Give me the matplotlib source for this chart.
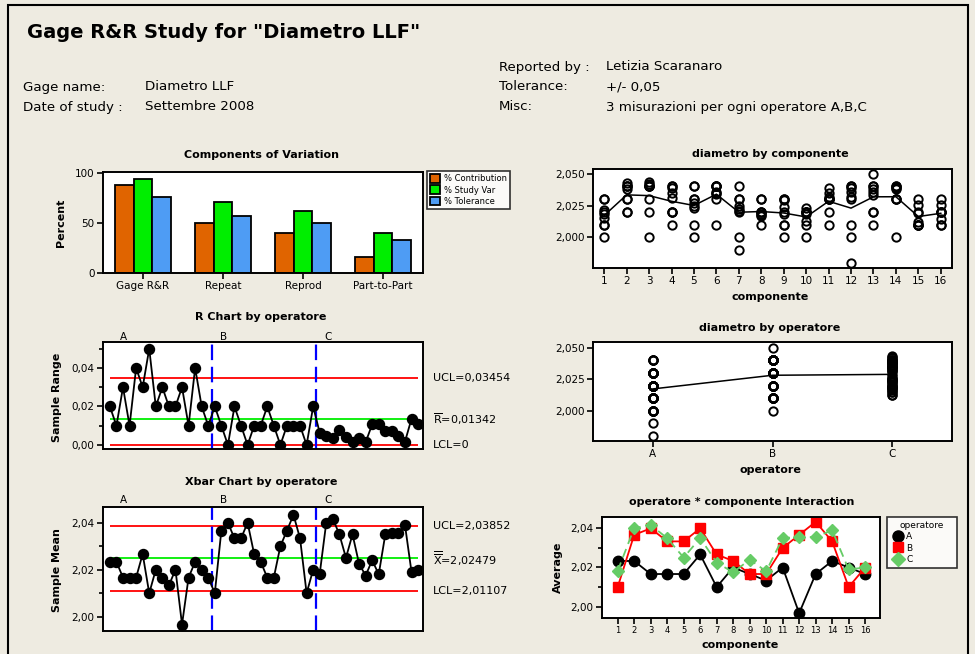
import numpy as np
import matplotlib
matplotlib.use('Agg')
import matplotlib.pyplot as plt
from matplotlib.ticker import FuncFormatter, MultipleLocator
from matplotlib.patches import Rectangle, Patch
from matplotlib.lines import Line2D

W, H = 975, 654
BG = '#eeebe1'

operators = ['A', 'B', 'C']
parts = np.arange(1, 17)

# 3 measurements per part, per operator
meas_A = [[2.01, 2.03, 2.03], [2.02, 2.02, 2.03], [2.00, 2.02, 2.03], [2.01, 2.02, 2.02],
          [2.00, 2.01, 2.04], [2.01, 2.03, 2.04], [1.99, 2.00, 2.04], [2.01, 2.02, 2.03],
          [2.00, 2.02, 2.03], [2.00, 2.02, 2.02], [2.01, 2.02, 2.03], [1.98, 2.00, 2.01],
          [2.01, 2.02, 2.02], [2.00, 2.03, 2.04], [2.01, 2.02, 2.03], [2.01, 2.02, 2.02]]
meas_B = [[2.00, 2.01, 2.02], [2.03, 2.04, 2.04], [2.04, 2.04, 2.04], [2.02, 2.04, 2.04],
          [2.03, 2.03, 2.04], [2.04, 2.04, 2.04], [2.02, 2.03, 2.03], [2.02, 2.02, 2.03],
          [2.01, 2.01, 2.03], [2.01, 2.02, 2.02], [2.03, 2.03, 2.03], [2.03, 2.04, 2.04],
          [2.04, 2.04, 2.05], [2.03, 2.03, 2.04], [2.01, 2.01, 2.01], [2.01, 2.02, 2.03]]
meas_C = [[2.0150, 2.0185, 2.0213], [2.0378, 2.0400, 2.0425], [2.0400, 2.0417, 2.0434],
          [2.0312, 2.0350, 2.0388], [2.0230, 2.0250, 2.0272], [2.0342, 2.0350, 2.0359],
          [2.0207, 2.0225, 2.0244], [2.0168, 2.0175, 2.0182], [2.0187, 2.0240, 2.0294],
          [2.0127, 2.0180, 2.0234], [2.0315, 2.0350, 2.0386], [2.0320, 2.0355, 2.0391],
          [2.0332, 2.0355, 2.0379], [2.0382, 2.0390, 2.0399], [2.0122, 2.0190, 2.0258],
          [2.0145, 2.0200, 2.0255]]

comp_names = ['Gage R&R', 'Repeat', 'Reprod', 'Part-to-Part']
pct_contribution = [88.3, 50.3, 39.6, 15.8]
pct_study_var = [94.3, 70.6, 62.4, 39.6]
pct_tolerance = [75.8, 56.7, 50.3, 33.2]

r_ucl, r_bar, r_lcl = 0.03454, 0.01342, 0.0
x_ucl, x_bar, x_lcl = 2.03852, 2.02479, 2.01107


def add_ax(fig, x0, y0, x1, y1):
    ax = fig.add_axes([x0 / W, 1 - y1 / H, (x1 - x0) / W, (y1 - y0) / H])
    ax.set_facecolor('white')
    for s in ax.spines.values():
        s.set_linewidth(1.4)
    ax.tick_params(direction='out', length=4, width=1.2, labelsize=7.5, pad=2)
    ax.tick_params(which='minor', direction='out', length=3, width=1.2)
    return ax


def ftext(fig, x, y, s, **kw):
    fig.text(x / W, 1 - y / H, s, **kw)


def comma(nd):
    return FuncFormatter(lambda v, p: f'{v:.{nd}f}'.replace('.', ','))


fig = plt.figure(figsize=(W / 100, H / 100), dpi=100, facecolor=BG)
fig.patches.append(Rectangle((8 / W, -0.01), 960 / W, 1.01 - 5 / H, transform=fig.transFigure,
                             fill=False, edgecolor='black', linewidth=1.5))

# header
ftext(fig, 27, 33, 'Gage R&R Study for "Diametro LLF"', fontsize=14, fontweight='bold', va='center')
ftext(fig, 23, 87, 'Gage name:', fontsize=9.6, va='center')
ftext(fig, 145, 87, 'Diametro LLF', fontsize=9.6, va='center')
ftext(fig, 23, 107, 'Date of study :', fontsize=9.6, va='center')
ftext(fig, 145, 107, 'Settembre 2008', fontsize=9.6, va='center')
ftext(fig, 499, 67, 'Reported by :', fontsize=9.6, va='center')
ftext(fig, 606, 67, 'Letizia Scaranaro', fontsize=9.6, va='center')
ftext(fig, 499, 87, 'Tolerance:', fontsize=9.6, va='center')
ftext(fig, 606, 87, '+/- 0,05', fontsize=9.6, va='center')
ftext(fig, 499, 107, 'Misc:', fontsize=9.6, va='center')
ftext(fig, 606, 107, '3 misurazioni per ogni operatore A,B,C', fontsize=9.6, va='center')

# components of variation
ax = add_ax(fig, 103, 172, 423, 273)
xs = np.arange(len(comp_names))
w = 0.23
bar_cols = ['#e06400', '#00ee00', '#4e9cf4']
bar_labs = ['% Contribution', '% Study Var', '% Tolerance']
for off, vals, c, lab in zip([-w, 0, w], [pct_contribution, pct_study_var, pct_tolerance],
                             bar_cols, bar_labs):
    ax.bar(xs + off, vals, w, color=c, edgecolor='black', linewidth=1.3, label=lab)
ax.set_xlim(-0.5, 3.5)
ax.set_ylim(0, 101)
ax.set_yticks([0, 50, 100])
ax.set_xticks(xs)
ax.set_xticklabels(comp_names, fontsize=7.5)
handles = [Patch(facecolor=c, edgecolor='black', linewidth=1.3) for c in bar_cols]
leg = ax.legend(handles, bar_labs, loc='upper left', bbox_to_anchor=(427 / W, 1 - 171 / H),
                bbox_transform=fig.transFigure, fontsize=6, frameon=True, fancybox=False,
                edgecolor='black', borderaxespad=0, handlelength=1.2, handleheight=1.2,
                handletextpad=0.4, labelspacing=0.25, borderpad=0.4)
leg.get_frame().set_linewidth(1.2)
ftext(fig, 262, 155, 'Components of Variation', fontsize=8, fontweight='bold', ha='center', va='center')
ftext(fig, 61, 223, 'Percent', fontsize=8, fontweight='bold', rotation=90, ha='center', va='center')

# R chart and Xbar chart
groups = meas_A + meas_B + meas_C
idx = np.arange(1, len(groups) + 1)
ranges = [max(g) - min(g) for g in groups]
means = [np.mean(g) for g in groups]


def control_chart(y0, y1, vals, ucl, cl, lcl, ylim, nd, labels, title, ty, ly, lx_y, ylab):
    ax = add_ax(fig, 103, y0, 423, y1)
    ax.hlines([ucl, lcl], 1, len(vals), colors='#ff0000', linewidth=1.3, zorder=1)
    ax.hlines(cl, 1, len(vals), colors='#00ee00', linewidth=1.3, zorder=1)
    for xv in [16.5, 32.5]:
        ax.axvline(xv, color='#0000ff', linewidth=1.6, linestyle=(0, (7, 3)), zorder=1)
    ax.plot(idx, vals, '-o', color='black', ms=7.2, lw=1.3, zorder=3)
    ax.set_xlim(-0.05, 48.75)
    ax.set_ylim(*ylim)
    ax.set_xticks([])
    ax.yaxis.set_major_locator(MultipleLocator(0.02))
    ax.yaxis.set_minor_locator(MultipleLocator(0.01))
    ax.yaxis.set_major_formatter(comma(nd))
    tr = ax.get_yaxis_transform()
    for v, s in zip([ucl, cl, lcl], labels):
        ax.text(1.03, v, s, transform=tr, fontsize=8, va='center', ha='left')
    for px_, op in zip([123, 224, 328], operators):
        ftext(fig, px_, ly, op, fontsize=7.5, ha='center', va='center')
    ftext(fig, 261, ty, title, fontsize=8, fontweight='bold', ha='center', va='center')
    ftext(fig, 57, lx_y, ylab, fontsize=8, fontweight='bold', rotation=90, ha='center', va='center')
    return ax


control_chart(342, 449, ranges, r_ucl, r_bar, r_lcl, (-0.0021, 0.0535), 2,
              ['UCL=0,03454', r'$\overline{\mathrm{R}}$=0,01342', 'LCL=0'],
              'R Chart by operatore', 317, 337, 397, 'Sample Range')
control_chart(507, 631, means, x_ucl, x_bar, x_lcl, (1.9939, 2.0467), 2,
              ['UCL=2,03852', r'$\overline{\overline{\mathrm{X}}}$=2,02479', 'LCL=2,01107'],
              'Xbar Chart by operatore', 482, 500, 570, 'Sample Mean')

# diametro by componente
all_meas = np.array([meas_A, meas_B, meas_C])  # op, part, rep
ax = add_ax(fig, 593, 169, 952, 268)
for i, p in enumerate(parts):
    ys = all_meas[:, i, :].ravel()
    ax.plot(np.full(ys.size, p), ys, 'o', mfc='none', mec='black', ms=6, mew=1.4)
ax.plot(parts, all_meas.mean(axis=(0, 2)), '-', color='black', lw=1.1)
ax.set_xlim(0.5, 16.5)
ax.set_ylim(1.9759, 2.0537)
ax.set_xticks(parts)
ax.set_yticks([2.000, 2.025, 2.050])
ax.yaxis.set_major_formatter(comma(3))
ftext(fig, 770, 154, 'diametro by componente', fontsize=8, fontweight='bold', ha='center', va='center')
ftext(fig, 770, 297, 'componente', fontsize=8, fontweight='bold', ha='center', va='center')

# diametro by operatore
ax = add_ax(fig, 593, 342, 952, 441)
for k in range(3):
    ys = all_meas[k].ravel()
    ax.plot(np.full(ys.size, k), ys, 'o', mfc='none', mec='black', ms=6, mew=1.4)
ax.plot(np.arange(3), all_meas.mean(axis=(1, 2)), '-', color='black', lw=1.1)
ax.set_xlim(-0.5, 2.5)
ax.set_ylim(1.976, 2.0545)
ax.set_xticks(np.arange(3))
ax.set_xticklabels(operators)
ax.set_yticks([2.000, 2.025, 2.050])
ax.yaxis.set_major_formatter(comma(3))
ftext(fig, 770, 328, 'diametro by operatore', fontsize=8, fontweight='bold', ha='center', va='center')
ftext(fig, 770, 470, 'operatore', fontsize=8, fontweight='bold', ha='center', va='center')

# interaction
ax = add_ax(fig, 602, 517, 880, 618)
styles = [dict(color='black', marker='o', ms=7.5, ls='-'),
          dict(color='#ff0000', marker='s', ms=6.5, ls='-'),
          dict(color='#66cc66', marker='D', ms=6.5, ls=(0, (5, 3)))]
for k, st in enumerate(styles):
    ax.plot(parts, all_meas[k].mean(axis=1), lw=1.3, label=operators[k], **st)
ax.set_xlim(0.05, 16.9)
ax.set_ylim(1.9942, 2.0458)
ax.set_xticks(parts)
ax.tick_params(axis='x', labelsize=6)
ax.yaxis.set_major_locator(MultipleLocator(0.02))
ax.yaxis.set_minor_locator(MultipleLocator(0.01))
ax.yaxis.set_major_formatter(comma(2))
lh = [Line2D([], [], color=st['color'], marker=st['marker'], ms=st['ms'] + 0.5, ls='none')
      for st in styles]
leg = ax.legend(lh, operators, title='operatore', loc='upper left',
                bbox_to_anchor=(887 / W, 1 - 573 / H, 70 / W, 56 / H), mode='expand',
                bbox_transform=fig.transFigure, fontsize=6.5, title_fontsize=6.5, frameon=True,
                fancybox=False, edgecolor='black', borderaxespad=0, handlelength=1.5,
                handletextpad=0.2, labelspacing=0.25, borderpad=0.45)
leg.get_frame().set_linewidth(1.2)
ftext(fig, 742, 502, 'operatore * componente Interaction', fontsize=8, fontweight='bold',
      ha='center', va='center')
ftext(fig, 740, 645, 'componente', fontsize=8, fontweight='bold', ha='center', va='center')
ftext(fig, 558, 567, 'Average', fontsize=8, fontweight='bold', rotation=90, ha='center', va='center')

fig.savefig('out.png', dpi=100, facecolor=BG)
